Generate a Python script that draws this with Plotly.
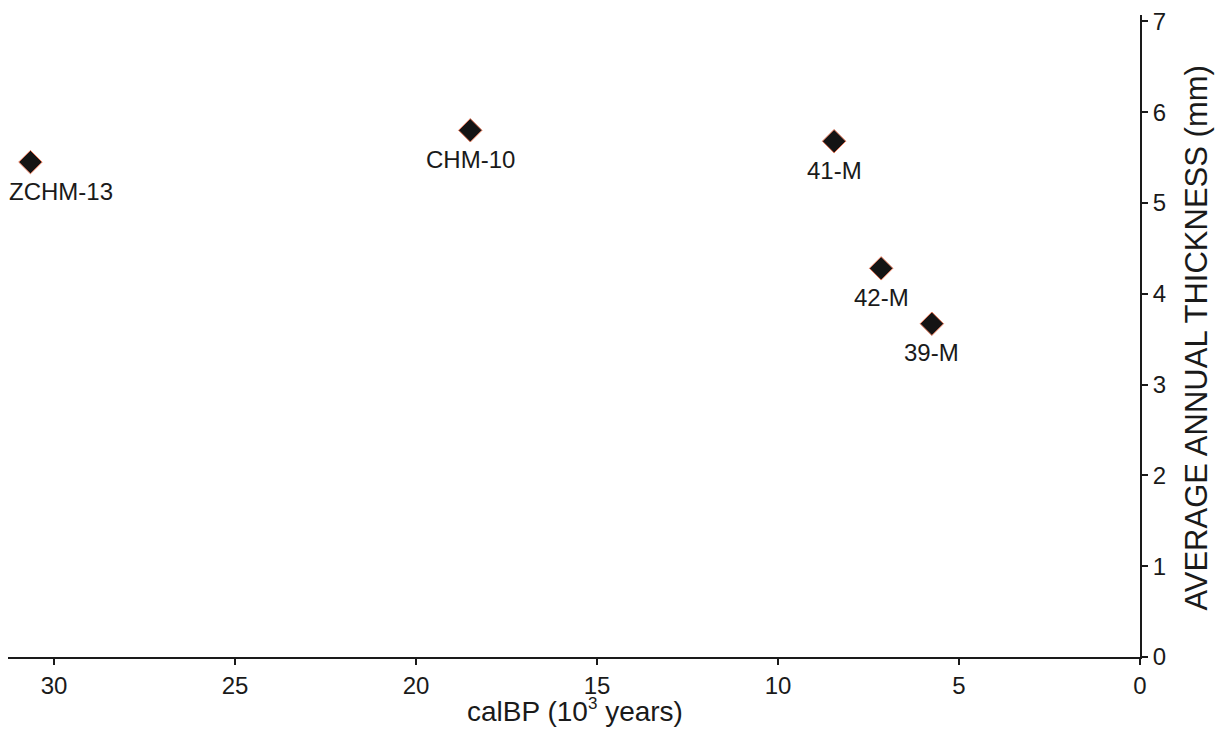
import plotly.graph_objects as go

# Sample ages (10^3 cal years BP) and average annual thickness (mm)
samples = ["ZCHM-13", "CHM-10", "41-M", "42-M", "39-M"]
age_kyr = [30.65, 18.5, 8.45, 7.15, 5.75]
thickness_mm = [5.45, 5.80, 5.68, 4.28, 3.67]
label_xshift = [31, 0, 0, 0, 0]

x_ticks = [30, 25, 20, 15, 10, 5, 0]
y_ticks = [0, 1, 2, 3, 4, 5, 6, 7]

FONT = "Liberation Sans, Arial, sans-serif"
INK = "#1a1a1a"

fig = go.Figure()
fig.add_trace(go.Scatter(
    x=age_kyr, y=thickness_mm, mode="markers",
    marker=dict(symbol="diamond", size=18, color="#141414",
                line=dict(color="#e8795a", width=1)),
    hoverinfo="text", text=samples, showlegend=False,
))

for name, xv, yv, dx in zip(samples, age_kyr, thickness_mm, label_xshift):
    fig.add_annotation(x=xv, y=yv, text=name, showarrow=False,
                       xshift=dx, yshift=-29,
                       font=dict(family=FONT, size=24, color=INK))

fig.update_layout(
    width=1225, height=731,
    margin=dict(l=8, r=85, t=10, b=74),
    paper_bgcolor="white", plot_bgcolor="white",
    font=dict(family=FONT, size=24, color=INK),
    xaxis=dict(range=[31.27, 0], tickvals=x_ticks, showgrid=False, zeroline=False,
               showline=True, linecolor=INK, linewidth=2,
               ticks="outside", ticklen=6, tickwidth=2, tickcolor=INK,
               tickfont=dict(size=24)),
    yaxis=dict(range=[0, 7.07], tickvals=y_ticks, side="right",
               showgrid=False, zeroline=False,
               showline=True, linecolor=INK, linewidth=2,
               ticks="outside", ticklen=6, tickwidth=2, tickcolor=INK,
               tickfont=dict(size=24)),
)

fig.add_annotation(xref="paper", yref="paper", x=0.501, y=-0.084,
                   text="calBP (10<sup><span style='font-size:17px'>3</span></sup> years)",
                   showarrow=False, yanchor="middle",
                   font=dict(family=FONT, size=28, color=INK))
fig.add_annotation(xref="paper", yref="paper", x=1.0504, y=0.496,
                   text="AVERAGE ANNUAL THICKNESS (mm)", showarrow=False,
                   textangle=-90, xanchor="center", yanchor="middle",
                   font=dict(family=FONT, size=31, color=INK))

fig.write_html("out.html")
